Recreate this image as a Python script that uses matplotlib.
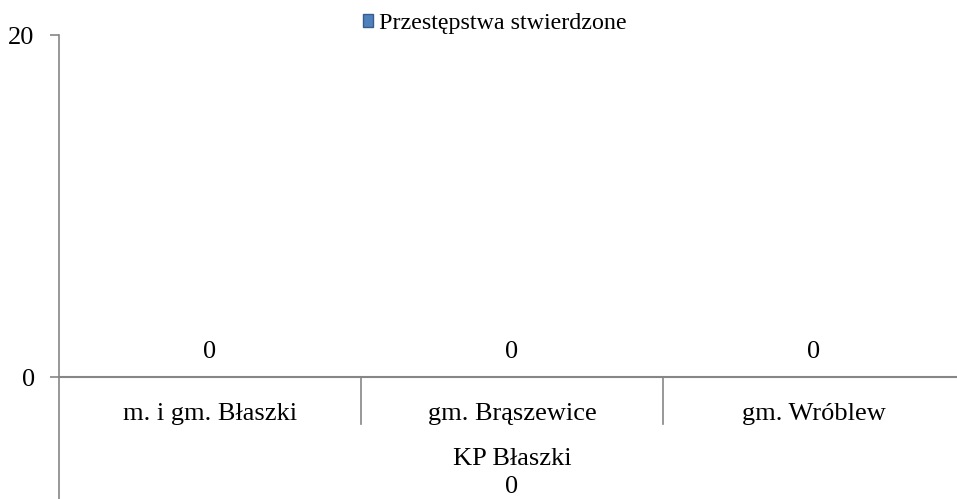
import matplotlib
matplotlib.use("Agg")
from matplotlib import pyplot as plt
from matplotlib.patches import Patch

# Data
categories = ["m. i gm. Błaszki", "gm. Brąszewice", "gm. Wróblew"]
values = [0, 0, 0]
group_label = "KP Błaszki"
group_total = 0
series_name = "Przestępstwa stwierdzone"
yticks = [0, 20]

plt.rcParams['font.family'] = ['Liberation Serif', 'DejaVu Serif']
grey = "#868686"
fs = 19

fig = plt.figure(figsize=(9.57, 4.99), dpi=100)
ax = fig.add_axes([59/957, 1-377/499, (965-59)/957, (377-35)/499])

xs = range(len(categories))
ax.bar(xs, values, width=0.6, color="#4f81bd")
for x, v in zip(xs, values):
    ax.text(x, v + 0.8, str(v), ha="center", va="bottom", fontsize=fs)

ax.set_xlim(-0.5, len(categories) - 0.5)
ax.set_ylim(0, 20)
ax.set_yticks(yticks)
ax.set_yticklabels([str(t) for t in yticks], fontsize=19)
ax.tick_params(axis="y", length=6.5, color=grey, width=1.2, pad=11)
ax.set_xticks([])

for s in ["top", "right"]:
    ax.spines[s].set_visible(False)
ax.spines["left"].set_color(grey)
ax.spines["bottom"].set_color(grey)
ax.spines["left"].set_linewidth(1.2)
ax.spines["bottom"].set_linewidth(1.5)

# category labels and dividers below the axis
for x, name in zip(xs, categories):
    ax.text(x, -0.075, name, transform=ax.get_xaxis_transform(),
            ha="center", va="top", fontsize=fs)
for b in range(1, len(categories)):
    ax.plot([b - 0.5, b - 0.5], [0, -0.137], transform=ax.get_xaxis_transform(),
            color=grey, lw=1.2, clip_on=False)
ax.plot([0, 0], [0, -0.36], transform=ax.transAxes, color=grey, lw=1.2, clip_on=False)

mid = (len(categories) - 1) / 2
ax.text(mid, -0.208, group_label, transform=ax.get_xaxis_transform(),
        ha="center", va="top", fontsize=fs)
ax.text(mid, -0.29, str(group_total), transform=ax.get_xaxis_transform(),
        ha="center", va="top", fontsize=fs)

handle = Patch(facecolor="#4f81bd", edgecolor="#385d8a")
fig.legend([handle], [series_name], loc="upper center", bbox_to_anchor=(0.517, 1.0),
           frameon=False, fontsize=17.3, handlelength=0.45, handleheight=0.45,
           handletextpad=0.25, borderaxespad=0.15)

fig.savefig("out.png", dpi=100)
